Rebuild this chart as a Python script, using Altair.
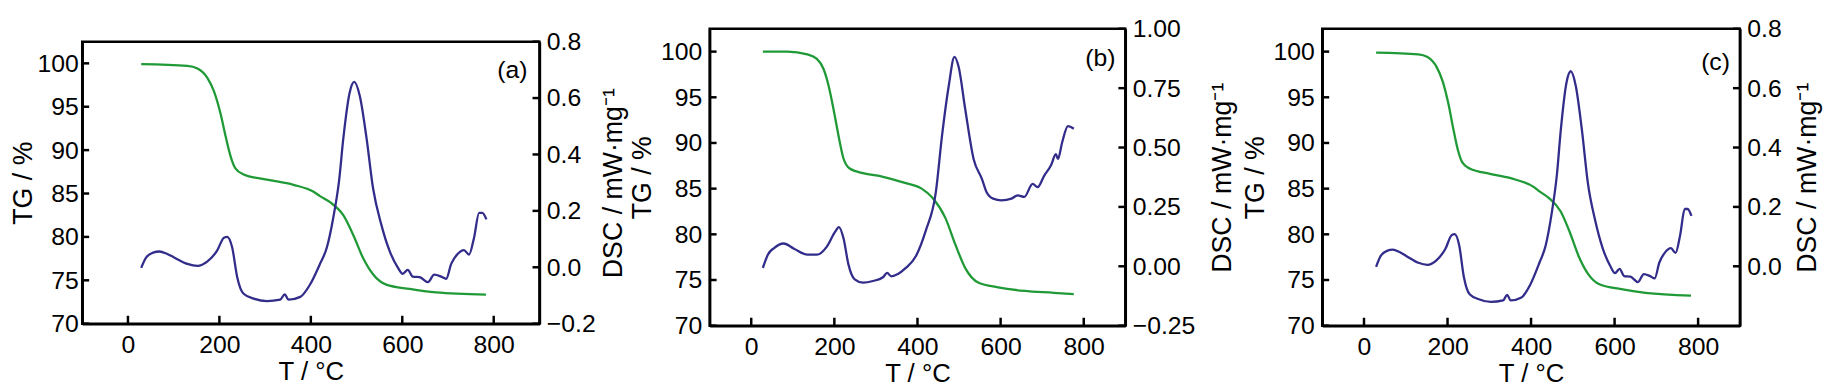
import altair as alt
import pandas as pd

# ---------------- data ----------------
X_TICKS = [0, 200, 400, 600, 800]
TG_TICKS = [70, 75, 80, 85, 90, 95, 100]

# panel (a)
T_TG_A = [29, 130, 152, 174, 188, 203, 214, 225, 235, 253, 304, 362, 406, 420, 442, 471, 493, 514, 536, 565, 616, 674, 783]
TG_A = [99.9, 99.7, 99.4, 98.3, 96.8, 94.1, 91.5, 89.2, 87.9, 87.2, 86.6, 86.0, 85.2, 84.7, 84.0, 82.5, 80.2, 77.6, 75.7, 74.5, 74.0, 73.6, 73.35]
T_DSC_A = [29, 40, 55, 69, 85, 101, 130, 152, 174, 195, 210, 217, 228, 239, 253, 275, 304, 333, 343, 351, 377, 398,
           420, 435, 449, 462, 471, 485, 495, 507, 522, 536, 554, 572, 590, 601, 612, 623, 638, 656, 670, 685, 696,
           707, 721, 735, 746, 757, 768, 775, 784]
DSC_A = [-0.002, 0.035, 0.052, 0.056, 0.048, 0.035, 0.012, 0.005, 0.021, 0.059, 0.105, 0.108, 0.07, -0.035, -0.094,
         -0.111, -0.12, -0.115, -0.096, -0.115, -0.105, -0.062, 0.012, 0.07, 0.175, 0.31, 0.456, 0.62, 0.657, 0.608,
         0.456, 0.281, 0.152, 0.059, 0.0, -0.023, -0.009, -0.033, -0.035, -0.053, -0.026, -0.033, -0.041, 0.012,
         0.047, 0.061, 0.045, 0.105, 0.193, 0.193, 0.17]
DSC_TICKS_A = [-0.2, 0.0, 0.2, 0.4, 0.6, 0.8]

# panel (b)
T_TG_B = [28, 87, 135, 158, 174, 186, 198, 210, 222, 237, 269, 317, 372, 410, 436, 467, 491, 515, 547, 594, 657, 728, 776]
TG_B = [100.0, 100.0, 99.7, 99.2, 98.1, 96.3, 93.7, 90.8, 88.3, 87.2, 86.7, 86.3, 85.6, 85.0, 84.0, 81.8, 78.9, 76.3,
        74.7, 74.2, 73.8, 73.6, 73.45]
T_DSC_B = [28, 40, 55, 78, 103, 135, 158, 182, 202, 211, 222, 234, 249, 269, 293, 317, 327, 337, 372, 396, 420, 444,
           459, 475, 489, 499, 515, 535, 555, 566, 582, 602, 626, 641, 657, 677, 689, 705, 721, 733, 738, 748, 762, 776]
DSC_B = [-0.007, 0.049, 0.077, 0.096, 0.074, 0.049, 0.049, 0.083, 0.146, 0.165, 0.118, 0.007, -0.055, -0.069, -0.062,
         -0.046, -0.028, -0.042, -0.007, 0.042, 0.15, 0.31, 0.549, 0.757, 0.882, 0.84, 0.66, 0.452, 0.368, 0.313,
         0.285, 0.278, 0.285, 0.299, 0.292, 0.347, 0.333, 0.382, 0.424, 0.472, 0.452, 0.521, 0.59, 0.579]
DSC_TICKS_B = [-0.25, 0.0, 0.25, 0.5, 0.75, 1.0]

# panel (c) (same curves as panel a in the reference)
T_TG_C = [29, 130, 152, 174, 188, 203, 214, 225, 235, 253, 304, 362, 406, 420, 442, 471, 493, 514, 536, 565, 616, 674, 783]
TG_C = [99.9, 99.7, 99.4, 98.3, 96.8, 94.1, 91.5, 89.2, 87.9, 87.2, 86.6, 86.0, 85.2, 84.7, 84.0, 82.5, 80.2, 77.6, 75.7, 74.5, 74.0, 73.6, 73.3]
T_DSC_C = T_DSC_A
DSC_C = DSC_A
DSC_TICKS_C = [0.0, 0.2, 0.4, 0.6, 0.8]

# ---------------- styling ----------------
FONT = "Liberation Sans"
GREEN = "#1f9a36"
BLUE = "#322c8a"
TICK_LEN = 7


def panel(t_tg, tg, t_dsc, dsc, dsc_domain, dsc_ticks, dsc_fmt, label, w, h, lab_dx, lab_dy,
          left_lp, left_tp, right_tp):
    tg_df = pd.DataFrame({"T": t_tg, "TG": tg})
    dsc_df = pd.DataFrame({"T": t_dsc, "DSC": dsc})
    xt_df = pd.DataFrame({"T": X_TICKS})
    lt_df = pd.DataFrame({"TG": TG_TICKS})
    rt_df = pd.DataFrame({"DSC": dsc_ticks})
    lab_df = pd.DataFrame({"lab": [label]})

    xscale = alt.Scale(domain=[-100, 900], nice=False, zero=False)
    xaxis = alt.Axis(values=X_TICKS, title="T / °C", format="d", labelPadding=9, titlePadding=1,
                     titleFontSize=26)
    tg_scale = alt.Scale(domain=[70, 102.5], nice=False, zero=False)
    tg_axis = alt.Axis(orient="left", values=TG_TICKS, title="TG / %", labelPadding=left_lp,
                       titlePadding=left_tp)
    dsc_scale = alt.Scale(domain=dsc_domain, nice=False, zero=False)
    dsc_axis = alt.Axis(orient="right", values=dsc_ticks, format=dsc_fmt, title="DSC / mW·mg⁻¹",
                        labelPadding=7, titlePadding=right_tp, titleAngle=270, titleBaseline="top")

    X = alt.X("T:Q", scale=xscale, axis=xaxis)

    tg_line = alt.Chart(tg_df).mark_line(color=GREEN, strokeWidth=2.3, interpolate="monotone").encode(
        x=X, y=alt.Y("TG:Q", scale=tg_scale, axis=tg_axis))
    left_ticks = alt.Chart(lt_df).mark_rule(color="black", strokeWidth=2.5).encode(
        y=alt.Y("TG:Q", scale=tg_scale, axis=tg_axis), x=alt.value(0), x2=alt.value(TICK_LEN))
    x_ticks = alt.Chart(xt_df).mark_rule(color="black", strokeWidth=2.5).encode(
        x=X, y=alt.value(h), y2=alt.value(h - TICK_LEN - 1))
    lab = alt.Chart(lab_df).mark_text(font=FONT, fontSize=25, align="right", baseline="middle",
                                      color="black").encode(
        text="lab:N", x=alt.value(w - lab_dx), y=alt.value(lab_dy))
    left_group = alt.layer(tg_line, left_ticks, x_ticks, lab)

    dsc_line = alt.Chart(dsc_df).mark_line(color=BLUE, strokeWidth=2.3, interpolate="monotone").encode(
        x=X, y=alt.Y("DSC:Q", scale=dsc_scale, axis=dsc_axis))
    right_ticks = alt.Chart(rt_df).mark_rule(color="black", strokeWidth=2.5).encode(
        y=alt.Y("DSC:Q", scale=dsc_scale, axis=dsc_axis), x=alt.value(w - TICK_LEN), x2=alt.value(w))
    right_group = alt.layer(dsc_line, right_ticks)

    return alt.layer(left_group, right_group).resolve_scale(y="independent").properties(width=w, height=h)


pa = panel(T_TG_A, TG_A, T_DSC_A, DSC_A, [-0.2, 0.8], DSC_TICKS_A, ".1f", "(a)", 462, 285, 12, 29, 4, 0, 6)
pb = panel(T_TG_B, TG_B, T_DSC_B, DSC_B, [-0.25, 1.0], DSC_TICKS_B, ".2f", "(b)", 420, 300, 10, 30, 8, 4, 15)
pc = panel(T_TG_C, TG_C, T_DSC_C, DSC_C, [-0.2, 0.8], DSC_TICKS_C, ".1f", "(c)", 422, 300, 10, 34, 8, 4, 14)

# invisible spacer that lowers panel (a) a little, as in the reference
spacer = alt.Chart(pd.DataFrame({"s": [0]})).mark_rule(strokeOpacity=0, strokeWidth=0).encode(
    x=alt.value(0), x2=alt.value(1), y=alt.value(0)
).properties(width=1, height=1, view=alt.ViewBackground(strokeOpacity=0))

col_a = alt.vconcat(spacer, pa, spacing=-2)
bc = alt.hconcat(pb, pc, spacing=3)

chart = alt.hconcat(col_a, bc, spacing=-1).properties(
    padding={"left": 0, "top": 5, "right": 0, "bottom": 0},
    background="white",
).configure_view(
    stroke="black", strokeWidth=2.5
).configure_axis(
    labelFont=FONT, titleFont=FONT, labelFontSize=25, titleFontSize=27,
    labelColor="black", titleColor="black", titleFontWeight="normal",
    domainColor="black", domainWidth=2.5, ticks=False, tickSize=0, grid=False,
)

chart.save("out.html", embed_options={"renderer": "svg", "actions": False})
